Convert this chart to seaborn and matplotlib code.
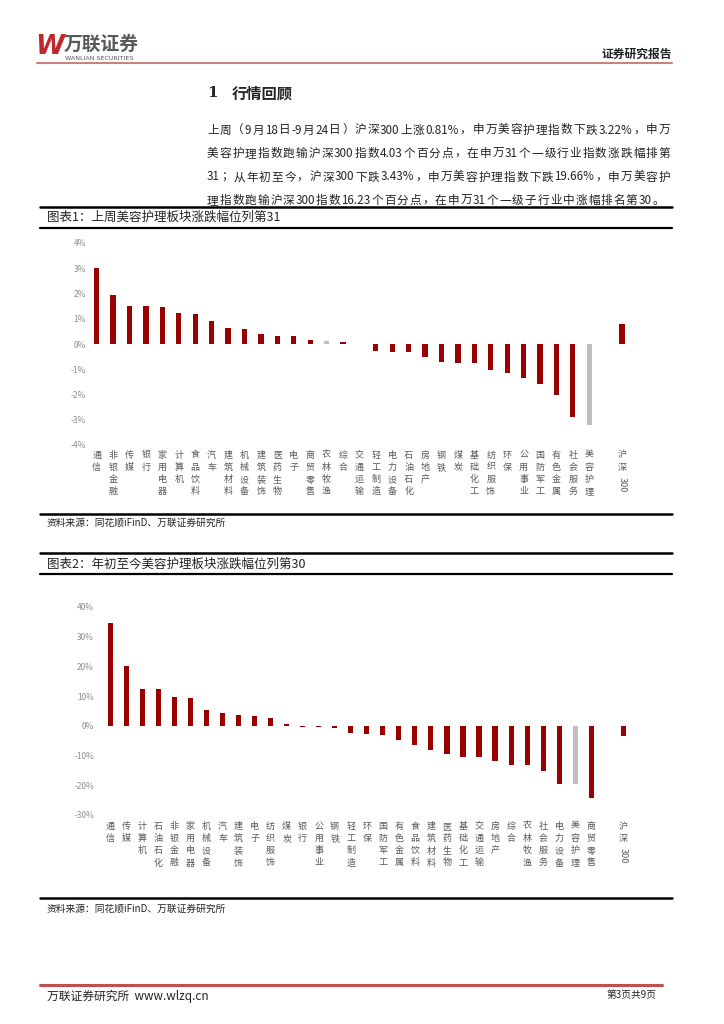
import re
import matplotlib
matplotlib.use('Agg')
import matplotlib.pyplot as plt
from matplotlib.lines import Line2D
from matplotlib.transforms import blended_transform_factory
import pandas as pd
import seaborn as sns

W, H = 724, 1024
RED = '#990000'
GREY = '#BFBFBF'

# 图表1: 上周涨跌幅 (%)
labels1 = ['通信', '非银金融', '传媒', '银行', '家用电器', '计算机', '食品饮料', '汽车',
           '建筑材料', '机械设备', '建筑装饰', '医药生物', '电子', '商贸零售', '农林牧渔',
           '综合', '交通运输', '轻工制造', '电力设备', '石油石化', '房地产', '钢铁', '煤炭',
           '基础化工', '纺织服饰', '环保', '公用事业', '国防军工', '有色金属', '社会服务',
           '美容护理', '沪深300']
values1 = [3.00, 1.96, 1.49, 1.49, 1.48, 1.23, 1.20, 0.91, 0.65, 0.59, 0.41, 0.33, 0.32,
           0.16, 0.13, 0.08, 0.01, -0.27, -0.30, -0.31, -0.53, -0.73, -0.75, -0.76, -1.01,
           -1.13, -1.36, -1.57, -2.00, -2.88, -3.22, 0.81]
grey1 = ['农林牧渔', '美容护理']
yticks1 = [-4, -3, -2, -1, 0, 1, 2, 3, 4]

# 图表2: 年初至今涨跌幅 (%)
labels2 = ['通信', '传媒', '计算机', '石油石化', '非银金融', '家用电器', '机械设备', '汽车',
           '建筑装饰', '电子', '纺织服饰', '煤炭', '银行', '公用事业', '钢铁', '轻工制造',
           '环保', '国防军工', '有色金属', '食品饮料', '建筑材料', '医药生物', '基础化工',
           '交通运输', '房地产', '综合', '农林牧渔', '社会服务', '电力设备', '美容护理',
           '商贸零售', '沪深300']
values2 = [34.6, 20.1, 12.5, 12.3, 9.6, 9.5, 5.4, 4.4, 3.6, 3.4, 2.7, 0.6, -0.5, -0.5,
           -0.6, -2.5, -2.9, -3.1, -4.8, -6.3, -8.2, -9.4, -10.4, -10.5, -11.7, -13.1,
           -13.1, -15.1, -19.4, -19.66, -24.3, -3.43]
grey2 = ['美容护理']
yticks2 = [-30, -20, -10, 0, 10, 20, 30, 40]

paragraph = [
    '上周（9月18日-9月24日）沪深300上涨0.81%，申万美容护理指数下跌3.22%，申万',
    '美容护理指数跑输沪深300指数4.03个百分点，在申万31个一级行业指数涨跌幅排第',
    '31；从年初至今，沪深300下跌3.43%，申万美容护理指数下跌19.66%，申万美容护',
    '理指数跑输沪深300指数16.23个百分点，在申万31个一级子行业中涨幅排名第30。',
]

sns.set_theme(style='white')
plt.rcParams['font.family'] = ['Noto Sans CJK SC', 'DejaVu Sans']
plt.rcParams['axes.unicode_minus'] = False

fig = plt.figure(figsize=(W / 100, H / 100), dpi=100)
renderer = fig.canvas.get_renderer()


def fx(x):
    return x / W


def fy(y):
    return 1 - y / H


def hline(y, x0, x1, lw, color='black'):
    fig.add_artist(Line2D([fx(x0), fx(x1)], [fy(y), fy(y)], lw=lw, color=color,
                          transform=fig.transFigure))


def text(x, y, s, **kw):
    kw.setdefault('va', 'center')
    return fig.text(fx(x), fy(y), s, **kw)


def justified(lines, x0, x1, y0, step, size):
    # 两端对齐: place tokens one by one, spreading the leftover width
    gap = 0
    for i, line in enumerate(lines):
        tokens = re.findall(r'[A-Za-z0-9.%\-]+|.', line)
        widths = []
        for tok in tokens:
            t = text(0, 0, tok, fontsize=size)
            widths.append(t.get_window_extent(renderer).width)
            t.remove()
        if i < len(lines) - 1:
            gap = (x1 - x0 - sum(widths)) / (len(tokens) - 1)
        x = x0
        for tok, w in zip(tokens, widths):
            text(x, y0 + i * step, tok, fontsize=size, color='#222222')
            x += w + gap


def bar_chart(box, xlim, labels, values, greys, yticks, label_pad, label_top):
    left, top, right, bottom = box
    ax = fig.add_axes([fx(left), fy(bottom), (right - left) / W, (bottom - top) / H])
    order = labels[:-1] + ['_gap'] + labels[-1:]
    df = pd.DataFrame({'name': labels, 'value': values})
    palette = {n: (GREY if n in greys else RED) for n in labels}
    sns.barplot(data=df, x='name', y='value', hue='name', palette=palette, order=order,
                legend=False, width=0.32, errorbar=None, saturation=1, linewidth=0, ax=ax)
    ax.set_xlim(*xlim)
    ax.set_ylim(yticks[0], yticks[-1])
    ax.set_yticks(yticks)
    ax.set_yticklabels([f'{v}%' for v in yticks], color='#8C8C8C', fontsize=6)
    ax.set_xticks(range(len(order)))
    ticklabels = ['\n'.join(n) for n in labels[:-1]] + ['', '沪\n深']
    ax.set_xticklabels(ticklabels, fontsize=6.5, color='#595959', linespacing=1.45)
    ax.tick_params(axis='x', length=0, pad=label_pad)
    ax.tick_params(axis='y', length=0, pad=1.5)
    ax.set_xlabel('')
    ax.set_ylabel('')
    for s in ax.spines.values():
        s.set_visible(False)
    ax.grid(False)
    trans = blended_transform_factory(ax.transData, fig.transFigure)
    ax.text(len(order) - 1, fy(label_top + 27), '300', rotation=-90, ha='center', va='top',
            fontsize=6.5, color='#595959', transform=trans, clip_on=False)
    return ax


# header
text(35, 47, 'W', color='#C0282D', fontsize=19, weight='bold', style='italic',
     family='DejaVu Sans')
text(64, 44, '万联证券', color='#595959', fontsize=13.5, weight='bold')
text(65, 58, 'WANLIAN SECURITIES', color='#595959', fontsize=4.6, family='DejaVu Sans')
text(672, 54, '证券研究报告', ha='right', fontsize=8.5, weight='bold', color='#222222')
hline(62.5, 37, 672, 1.5, '#CC8080')

# section
text(207, 93, '1', fontsize=11, weight='bold', family='DejaVu Serif')
text(232, 93, '行情回顾', fontsize=11, weight='bold')
justified(paragraph, 207, 670, 130, 23.5, 8.4)

# chart 1
hline(206.5, 40, 672, 1.8)
text(47, 217, '图表1：上周美容护理板块涨跌幅位列第31', fontsize=9, color='#222222')
hline(227.5, 40, 672, 1.6)
bar_chart((88, 243, 640, 445), (-0.53, 33.09), labels1, values1, grey1, yticks1, 4, 450)
hline(513.5, 40, 672, 1.8)
text(47, 523, '资料来源：同花顺iFinD、万联证券研究所', fontsize=7, color='#222222')

# chart 2
hline(553, 40, 672, 1.8)
text(47, 564, '图表2：年初至今美容护理板块涨跌幅位列第30', fontsize=9, color='#222222')
hline(574, 40, 672, 1.6)
bar_chart((96, 607, 640, 815), (-0.89, 33.04), labels2, values2, grey2, yticks2, 5, 821)
hline(898, 40, 672, 1.8)
text(47, 909, '资料来源：同花顺iFinD、万联证券研究所', fontsize=7, color='#222222')

# footer
hline(985, 40, 662, 2.2, '#C0504D')
text(47, 996, '万联证券研究所  www.wlzq.cn', fontsize=8.5, color='#222222')
text(656, 995, '第3页共9页', ha='right', fontsize=7, color='#222222')

fig.savefig('out.png', dpi=100)
